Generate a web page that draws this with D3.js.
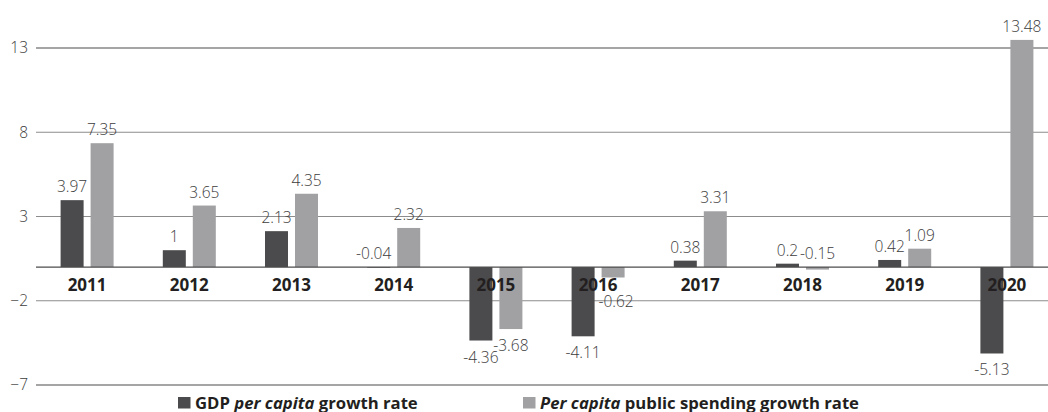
<!DOCTYPE html>
<html>
<head>
<meta charset="utf-8">
<script src="https://cdn.jsdelivr.net/npm/d3@7/dist/d3.min.js"></script>
<style>
  html, body { margin: 0; padding: 0; background: #ffffff; }
  svg { display: block; }
  text { font-family: "Open Sans", "Noto Sans", sans-serif; }
</style>
</head>
<body>
<svg id="chart" width="1048" height="412"></svg>
<script>
// Annual growth rates (%), 2011–2020
const years = ["2011", "2012", "2013", "2014", "2015", "2016", "2017", "2018", "2019", "2020"];
const gdpGrowth = [3.97, 1, 2.13, -0.04, -4.36, -4.11, 0.38, 0.2, 0.42, -5.13];
const spendingGrowth = [7.35, 3.65, 4.35, 2.32, -3.68, -0.62, 3.31, -0.15, 1.09, 13.48];
const yTicks = [13, 8, 3, -2, -7];

const svg = d3.select("#chart");
const W = 1048;

const x = d3.scaleBand().domain(years).range([36, 1058]).paddingInner(0).paddingOuter(0);
const y = d3.scaleLinear().domain([-7, 13]).range([385, 48]);

const barW = 23, barOffset = 15;
const colors = ["#4b4b4d", "#a1a1a4"];

// Horizontal reference lines: frame lines at the extremes, lighter ones in between
const gridG = svg.append("g");
gridG.selectAll("line").data(yTicks).join("line")
  .attr("x1", 36).attr("x2", W)
  .attr("y1", d => y(d)).attr("y2", d => y(d))
  .attr("stroke", d => (d === 13 || d === -7) ? "#4d4d4d" : "#8c8c8c")
  .attr("stroke-width", 1.2);

// Y axis tick labels
const yAxis = d3.axisLeft(y).tickValues(yTicks).tickSize(0).tickPadding(0).tickFormat(d3.format("d"));
svg.append("g").attr("transform", "translate(28,0)").call(yAxis)
  .call(g => g.select(".domain").remove())
  .call(g => g.selectAll("text")
    .attr("font-size", "15.5px").attr("font-weight", 300)
    .attr("fill", "#3c3c3c")
    .attr("font-family", "'Open Sans', 'Noto Sans', sans-serif"));

// Bars
const series = [gdpGrowth, spendingGrowth];
series.forEach((vals, si) => {
  const dx = si === 0 ? -barOffset : barOffset;
  svg.append("g").selectAll("rect")
    .data(vals.map((v, i) => ({ v, year: years[i] })))
    .join("rect")
    .attr("x", d => x(d.year) + x.bandwidth() / 2 + dx - barW / 2)
    .attr("width", barW)
    .attr("y", d => y(Math.max(0, d.v)))
    .attr("height", d => Math.abs(y(d.v) - y(0)))
    .attr("fill", colors[si]);
});

// Zero line
svg.append("line")
  .attr("x1", 36).attr("x2", W)
  .attr("y1", y(0)).attr("y2", y(0))
  .attr("stroke", "#4d4d4d").attr("stroke-width", 1.2);

// Category labels on the zero line
svg.append("g").selectAll("text").data(years).join("text")
  .attr("x", d => x(d) + x.bandwidth() / 2)
  .attr("y", y(0) + 24)
  .attr("text-anchor", "middle")
  .attr("font-size", "17px").attr("font-weight", 700)
  .attr("fill", "#231f20")
  .text(d => d);

// Value labels: above positive (and near-zero) bars, below clearly negative ones,
// never closer to the zero line than the category labels
series.forEach((vals, si) => {
  const dx = si === 0 ? -barOffset : barOffset;
  svg.append("g").selectAll("text")
    .data(vals.map((v, i) => ({ v, year: years[i] })))
    .join("text")
    .attr("x", d => {
      const cx = x(d.year) + x.bandwidth() / 2 + dx;
      if (d.v < 0 && d.v >= -0.2 && si === 0) return cx - 5;
      if (d.v < -0.2 && y(d.v) + 22 < y(0) + 40) return cx + 3;
      return cx;
    })
    .attr("y", d => d.v >= -0.2 ? y(Math.max(0, d.v)) - 8 : Math.max(y(d.v) + 22, y(0) + 40))
    .attr("text-anchor", "middle")
    .attr("font-size", "15.5px").attr("font-weight", 300)
    .attr("fill", "#3c3c3c")
    .text(d => d.v);
});

// Legend
const legend = svg.append("g");
const legendItems = [
  { parts: [["GDP ", "normal"], ["per capita", "italic"], [" growth rate", "normal"]], sx: 178 },
  { parts: [["Per capita", "italic"], [" public spending growth rate", "normal"]], sx: 523 }
];
legendItems.forEach((item, i) => {
  legend.append("rect")
    .attr("x", item.sx).attr("y", 397).attr("width", 12.5).attr("height", 11.5)
    .attr("fill", colors[i]);
  const t = legend.append("text")
    .attr("x", item.sx + 17).attr("y", 408.5)
    .attr("font-size", "16.7px").attr("font-weight", 700)
    .attr("fill", "#231f20");
  item.parts.forEach(([s, style]) => {
    t.append("tspan").attr("font-style", style).text(s);
  });
});
</script>
</body>
</html>
